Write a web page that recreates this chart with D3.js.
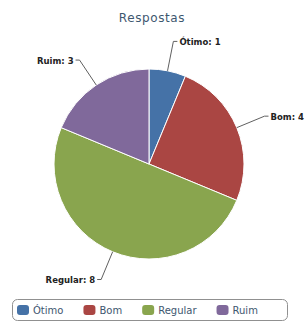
<!DOCTYPE html>
<html>
<head>
  <meta charset='utf-8' />
  <title>Respostas</title>
  <style>
    body { margin: 0; background: #fff; }
    svg text { font-family: 'DejaVu Sans', sans-serif; }
  </style>
</head>
<body>
  <div id="wrapper"></div>

<script src='https://d3js.org/d3.v7.min.js' charset='utf-8'></script>
<script>
  const categories = ['Ótimo', 'Bom', 'Regular', 'Ruim']
  const values = [1, 4, 8, 3]
  const colors = ['#4572A7', '#AA4643', '#89A54E', '#80699B']

  const width = 305
  const height = 322
  const cx = 149
  const cy = 164
  const radius = 95

  const data = categories.map((c, i) => ({ name: c, value: values[i], color: colors[i] }))

  const svg = d3.select('#wrapper')
    .append('svg')
      .attr('width', width)
      .attr('height', height)

  svg.append('text')
    .attr('x', 152)
    .attr('y', 22)
    .attr('text-anchor', 'middle')
    .attr('fill', '#3E576F')
    .style('font-size', '12px')
    .style('letter-spacing', '0.6px')
    .text('Respostas')

  const pie = d3.pie()
    .sort(null)
    .value(d => d.value)

  const arc = d3.arc().innerRadius(0).outerRadius(radius)
  const edgeArc = d3.arc().innerRadius(radius).outerRadius(radius)
  const labelArc = d3.arc().innerRadius(radius + 30).outerRadius(radius + 30)

  const g = svg.append('g')
    .attr('transform', `translate(${cx},${cy})`)

  const arcs = pie(data)

  g.selectAll('path.slice')
    .data(arcs)
    .enter()
    .append('path')
      .attr('class', 'slice')
      .attr('d', arc)
      .attr('fill', d => d.data.color)
      .attr('stroke', '#fff')
      .attr('stroke-width', 1)

  // connectors + labels, highcharts style
  arcs.forEach(d => {
    const mid = (d.startAngle + d.endAngle) / 2
    const side = Math.sin(mid) >= 0 ? 1 : -1
    const e = edgeArc.centroid(d)
    const p = labelArc.centroid(d)

    g.append('path')
      .attr('d', `M${e[0]},${e[1]}L${p[0]},${p[1]}L${p[0] + side * 4},${p[1]}`)
      .attr('fill', 'none')
      .attr('stroke', '#606060')
      .attr('stroke-width', 1)

    g.append('text')
      .attr('x', p[0] + side * 6)
      .attr('y', p[1] + 4)
      .attr('text-anchor', side > 0 ? 'start' : 'end')
      .attr('fill', '#222')
      .style('font-size', '8.5px')
      .style('font-weight', 'bold')
      .text(d.data.name + ': ' + d.data.value)
  })

  // legend
  const legend = svg.append('g')

  legend.append('rect')
    .attr('x', 12.5)
    .attr('y', 299.5)
    .attr('width', 275)
    .attr('height', 21)
    .attr('rx', 5)
    .attr('fill', '#fff')
    .attr('stroke', '#909090')

  let lx = 17
  data.forEach(d => {
    legend.append('rect')
      .attr('x', lx)
      .attr('y', 305)
      .attr('width', 12)
      .attr('height', 10)
      .attr('rx', 3)
      .attr('fill', d.color)

    const t = legend.append('text')
      .attr('x', lx + 16)
      .attr('y', 314)
      .attr('fill', '#3E576F')
      .style('font-size', '10px')
      .text(d.name)

    lx += 16 + t.node().getComputedTextLength() + 20
  })
</script>
</body>
</html>
